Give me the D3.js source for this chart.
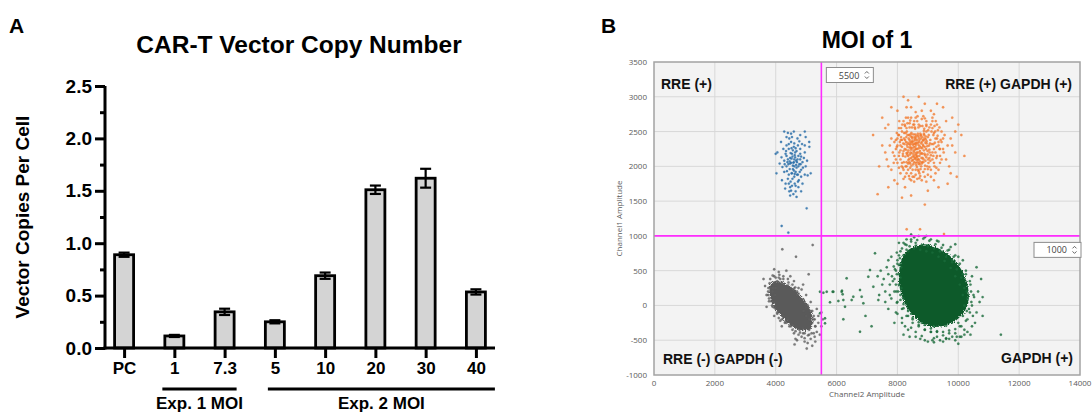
<!DOCTYPE html>
<html>
<head>
<meta charset="utf-8">
<script src="https://cdn.jsdelivr.net/npm/d3@7"></script>
<style>
  body { margin: 0; background: #fff; }
  svg { display: block; }
</style>
</head>
<body>
<svg id="fig" width="1092" height="414"></svg>
<script>
// ---------- Panel A data: vector copies per cell ----------
const barCategories = ["PC", "1", "7.3", "5", "10", "20", "30", "40"];
const barMeans  = [0.89, 0.115, 0.345, 0.25, 0.69, 1.51, 1.62, 0.535];
const barErrors = [0.02, 0.01, 0.03, 0.015, 0.03, 0.04, 0.09, 0.025];
const yTicksA = [0, 0.5, 1.0, 1.5, 2.0, 2.5];
const yMinorTicksA = [0.25, 0.75, 1.25, 1.75, 2.25];
const groupLabels = ["Exp. 1 MOI", "Exp. 2 MOI"];
const groupFirst  = ["1", "5"];
const groupLast   = ["7.3", "40"];

// ---------- Panel B data: droplet amplitudes (Channel2, Channel1) ----------
const xTicksB = [0, 2000, 4000, 6000, 8000, 10000, 12000, 14000];
const yTicksB = [-1000, -500, 0, 500, 1000, 1500, 2000, 2500, 3000, 3500];
const thresholdX = 5500;
const thresholdY = 1000;
const quadrantLabels = ["RRE (+)", "RRE (+) GAPDH (+)", "RRE (-) GAPDH (-)", "GAPDH (+)"];

// outline of the dense double-negative droplet cloud
const negativeCore = [[3870,330],[4300,320],[4850,120],[5200,-150],[5140,-340],[4700,-340],[4150,-140],[3810,130]];
// outline of the dense GAPDH-only droplet cloud
const gapdhCore = [[9800,-250],[9050,-300],[8350,-50],[8050,350],[8250,750],[8900,880],[9700,720],[10250,380],[10300,0]];

const negativeDroplets = [
  [3750,200],[3800,320],[3900,430],[4000,400],[4100,480],[4250,420],[4400,380],[4550,300],[4700,200],[4850,230],
  [4950,50],[5050,-20],[5150,-80],[5250,-200],[5300,-300],[5350,-380],[5280,-450],[5150,-480],[5050,-540],[4950,-470],
  [4850,-450],[4750,-420],[4600,-400],[4450,-300],[4300,-250],[4150,-220],[4050,-100],[3950,-30],[3850,60],[3780,100],
  [3700,150],[3650,280],[4000,250],[4150,380],[4500,250],[4800,100],[5000,-150],[5100,-350],[4900,-400],[4400,-200],
  [4000,-50],[3900,200],[4600,350],[4900,300],[5200,-250],[5400,-250],[5450,-420],[5300,-520],[4700,-500],[4200,-300],
  [5500,-100],[5350,-50],[3600,380],[3950,520],[4350,500],[5000,150],[5150,50],[4100,-180],[4650,-480],[5200,-580],
  [3820,260],[4050,350],[4200,330],[4750,250],[5100,-200],[5250,-150],[4950,-520],[4550,-350],[4250,-150],[3880,0],
  [4480,420],[4920,-80],[5060,-430],[3980,150],[4780,-350],[5400,-150],[4120,440],[4320,-230],[5180,-400],[4640,260],
  [4216,807],[4667,700],[5215,869],[5083,448],[3950,-150],[5500,-300],[5550,-200],[5020,-620],[4620,-560],[3700,-20],
  [3820,380],[3950,420],[4100,400],[4250,380],[4420,330],[4600,240],[4750,170],[4900,90],[5050,0],[5200,-80],
  [5280,-200],[5300,-300],[5250,-400],[5100,-420],[4950,-400],[4800,-390],[4650,-370],[4500,-300],[4350,-250],[4200,-200],
  [4050,-120],[3900,-20],[3780,60],[3750,150],[3760,250],[3900,250],[4100,330],[4400,280],[4700,150],[5000,-30],
  [5150,-250],[4900,-330],[4550,-280],[4250,-150],[3950,50]
];

const gapdhDroplets = [
  [7900,200],[7850,350],[7950,500],[8000,650],[8100,780],[8250,880],[8400,850],[8600,900],[8800,870],[9000,850],
  [9200,820],[9400,780],[9600,700],[9800,620],[9950,520],[10100,400],[10200,250],[10300,100],[10350,-50],[10300,-200],
  [10200,-350],[10050,-450],[9900,-500],[9700,-480],[9500,-520],[9300,-450],[9100,-380],[8900,-350],[8700,-300],[8500,-250],
  [8300,-150],[8150,-50],[8000,50],[7950,-100],[7800,100],[7750,300],[7700,450],[8050,900],[8450,950],[9100,950],
  [9700,800],[10400,300],[10500,150],[10600,-100],[10450,-300],[10200,-420],[9800,-450],[9400,-500],[8900,-500],[8600,-450],
  [8350,-350],[8150,-250],[7900,-250],[7600,200],[7550,380],[7650,550],[7800,700],[8700,1000],[9300,930],[10000,700],
  [10700,50],[10650,200],[10550,-250],[10100,-450],[9600,-480],[9150,-500],[8750,-480],[8400,-450],[8200,-420],[7700,-50],
  [8050,580],[8200,720],[8350,780],[8550,820],[8750,800],[8950,780],[9150,760],[9350,700],[9550,640],[9750,540],
  [9900,420],[10050,300],[10150,150],[10200,0],[10150,-150],[10050,-300],[9900,-400],[9700,-400],[9500,-430],[9300,-380],
  [9100,-330],[8900,-280],[8700,-240],[8500,-180],[8350,-80],[8200,20],[8100,150],[8050,300],[8050,450],[8100,600],
  [7820,420],[7880,560],[7980,760],[8300,950],[8900,980],[9500,870],[9900,720],[10250,450],[10450,0],[10400,-420],
  [10000,-550],[9200,-530],[8600,-380],[8250,-300],[8000,-120],[7750,150],[7600,50],[7500,300],[7450,500],[7700,650],
  [11400,-420],[10800,-150],[10800,120],[10750,380],[8450,1020],[9900,880],[7350,420],[7400,150],[10600,550],[9000,-520],
  [7950,300],[7980,450],[7960,200],[8000,600],[8080,680],[8150,820],[8300,870],[8450,920],[8650,940],[8850,960],
  [9050,930],[9250,880],[9450,830],[9650,790],[9850,700],[10050,600],[10250,500],[10380,350],[10420,200],[10430,50],
  [10380,-100],[10250,-220],[10100,-300],[9900,-340],[9700,-360],[9500,-380],[9300,-370],[9100,-380],[8900,-350],[8700,-280],
  [8500,-200],[8350,-150],[8200,-40],[8100,80],[8020,200],[7900,380],[7920,520],[8050,720],[8200,900],[8550,980],
  [8950,1000],[9350,920],[9750,840],[10150,650],[10450,420],[10520,120],[10480,-150],[10300,-380],[9950,-450],[9600,-470],
  [9200,-470],[8800,-440],[8450,-320],[8150,-180],[7980,40],[8100,400],[8120,550],[8300,800],[8600,860],[9000,860],
  [9400,780],[9800,650],[10150,450],[10280,200],[10280,-80],[10000,-250],[9600,-290],[9200,-300],[8800,-250],[8450,-120],
  [8200,100],[8130,250],
  // droplets trailing toward the negative cloud
  [5455,197],[5565,183],[5784,45],[5872,197],[6058,64],[6178,212],[6200,160],[6277,-18],[6331,390],[6222,-199],
  [5620,-185],[5620,-257],[5455,-113],[5676,197],[5894,197],[6167,197],[6222,78],[6550,126],[6770,222],[6825,126],
  [6770,-378],[7263,750],[7098,509],[6497,78],[6880,31],[7372,78],[7208,269],[7043,413],[6950,-150],[7150,-300]
];

const rreDroplets = [
  [4580,2050],[4475,2120],[4685,1980],[4355,2000],[4805,2100],[4520,1900],[4640,2200],[4430,2250],[4730,2300],[4280,2080],
  [4610,1850],[4835,1950],[4400,1820],[4505,2350],[4955,2200],[4325,2180],[4670,2080],[4565,2010],[4745,2150],[4460,1960],
  [4550,2140],[4655,1920],[4385,2060],[4775,2030],[4595,2280],[4490,1780],[4880,2060],[4220,1990],[4715,2400],[4625,1750],
  [4445,2400],[4805,2250],[4535,2180],[4355,2150],[4700,1880],[4925,2120],[4280,1920],[4610,2330],[4430,1880],[4835,1850],
  [4505,2050],[4745,2000],[4400,2100],[4640,2130],[4565,1960],[4475,2040],[4670,2020],[4535,1900],[4610,2100],[4805,2180],
  [4130,2040],[4985,2000],[4325,1750],[4745,1700],[4505,1650],[4580,1600],[4685,1560],[4475,1700],[4400,2480],[4595,2500],
  [4280,2500],[4805,2450],[4985,2420],[5105,2280],[5030,2080],[5150,1900],[4880,1750],[4055,2200],[4175,2350],[4025,1900],
  [4205,1800],[4685,2220],[4520,2260],[4430,2320],[4340,2220],[4865,2320],[4760,1800],[4655,1720],[4550,1820],[4445,1640],
  [4625,2160],[4490,2190],[4715,2100],[4595,1940],[4370,1930],[4790,1920],[4520,2110],[4460,2070],[4700,2060],[4610,2000],
  [4565,2230],[4415,2030],[4820,2030],[4655,2260],[4295,2030],[4535,1720],[4730,1780],[4895,1980],[4355,2300],[4775,2360],
  [4535,2420],[4955,2300],[4250,2250],[4190,2130],[4625,1890],[4430,1750],[4835,2140],[4955,1880],[4475,1580],[4655,1640],
  [5100,2350],[5050,1870],[4000,2180],[4310,1680],[4835,1640],[4955,2500],[4355,2420],[4505,2470],[4730,1880],[4595,2060],
  [4196,1142],[4415,1046],[5017,1396]
];

const doublePositiveDroplets = [
  [8650,2250],[8420,2310],[8890,2180],[8510,2090],[8770,2400],[8340,2200],[8960,2330],[8600,2050],[8720,2150],[8480,2420],
  [8810,2060],[8280,2350],[9050,2240],[8560,2370],[8690,2310],[8390,2110],[8930,2430],[8620,2180],[8750,2470],[8450,2240],
  [8850,2290],[8300,2060],[9010,2100],[8580,2460],[8700,2040],[8370,2400],[8910,2010],[8530,2170],[8800,2350],[8640,2380],
  [8240,2250],[9080,2380],[8460,2330],[8740,2220],[8590,2120],[8880,2450],[8330,2280],[8990,2170],[8520,2030],[8680,2440],
  [8410,2170],[8830,2120],[8610,2310],[8260,2140],[9040,2300],[8490,2400],[8770,2270],[8350,2040],[8940,2250],[8560,2200],
  [8700,2100],[8430,2460],[8860,2370],[8620,2020],[8290,2420],[9100,2160],[8540,2280],[8790,2190],[8380,2320],[8920,2080],
  [8660,2340],[8470,2080],[8820,2420],[8570,2240],[8720,2380],[8320,2170],[9000,2420],[8500,2350],[8740,2070],[8440,2270],
  [8870,2230],[8600,2410],[8360,2090],[8960,2360],[8650,2150],[8520,2460],[8800,2040],[8280,2240],[9060,2200],[8580,2330],
  [8700,2260],[8400,2380],[8840,2310],[8630,2090],[8470,2190],[8910,2160],[8550,2060],[8760,2440],[8340,2340],[8980,2290],
  [8690,2200],[8450,2120],[8860,2100],[8610,2250],[8380,2450],[9020,2050],[8540,2140],[8780,2330],[8420,2040],[8930,2390],
  [8670,2470],[8310,2310],[8820,2180],[8580,2390],[8730,2030],[8490,2260],[8890,2400],[8640,2130],[8360,2230],[9070,2330],
  [8510,2310],[8710,2350],[8430,2200],[8850,2060],[8590,2280],[8250,2380],[8950,2130],[8560,2420],[8790,2120],[8400,2270],
  [8660,2060],[8480,2360],[8900,2280],[8620,2340],[8350,2150],[9030,2450],[8530,2220],[8760,2180],[8440,2430],[8870,2470],
  [8700,2410],[8300,2190],[8810,2260],[8570,2110],[8460,2480],[8990,2220],[8640,2200],[8390,2060],[8840,2380],[8600,2160],
  [8730,2290],[8500,2140],[8920,2340],[8680,2100],[8420,2350],[8780,2450],[8550,2320],[8330,2450],[9050,2120],[8620,2440],
  [8100,2300],[9250,2200],[8050,2150],[9300,2400],[8150,2500],[9200,2050],[8000,2400],[9350,2300],[8200,1950],[9150,2550],
  [8450,1900],[8850,1920],[8700,2600],[8400,2620],[8950,2580],[8600,1880],[8250,2580],[9100,1950],[8150,2050],[9400,2150],
  [7950,2250],[9450,2350],[8050,2550],[9300,2600],[8300,1900],[9000,1880],[8550,2650],[8800,2680],[8350,2700],[8900,1850],
  [7900,2350],[9500,2250],[8100,1900],[9250,1900],[8650,1820],[8500,1850],[8750,1860],[8200,2650],[9150,2650],[8450,2700],
  [7850,2200],[9550,2450],[8000,2050],[9400,2050],[8300,2550],[8950,2650],[8600,2700],[9200,2480],[8120,2420],[9050,2560],
  [7800,2400],[9600,2100],[8250,1850],[9100,1850],[8850,2720],[8400,1820],[7950,2100],[9450,2500],[8650,2650],[8180,2180],
  [9180,2320],[8080,2350],[9280,2120],[8220,2480],[9120,2500],[7980,2280],[9380,2250],[8140,2000],[9220,2000],[8550,1780],
  [8800,1800],[8950,2500],[8270,2000],[9080,2080],[8160,2600],[9330,2520],[8030,2450],[9420,2380],[8380,1860],[8720,1900],
  [7880,2050],[9520,2200],[8060,2650],[9260,2650],[8480,2560],[8820,2580],[8190,2330],[9150,2200],[8570,2560],[8680,1950],
  [7750,2300],[9650,2300],[8330,2620],[8980,2000],[8100,2230],[9230,2340],[8420,1980],[8880,2540],[8520,2600],[8760,1960],
  [8000,2300],[8050,2450],[8100,2100],[8150,2380],[8200,2220],[8120,2550],[8180,1980],[8230,2320],[8270,2480],[8210,2060],
  [9200,2250],[9250,2400],[9150,2100],[9300,2150],[9180,2450],[9350,2350],[9220,2580],[9280,1980],[9130,2320],[9400,2250],
  [8500,1950],[8700,1930],[8900,1960],[8350,1950],[9050,1990],[8550,2600],[8750,2580],[8950,2600],[8400,2560],[9100,2600],
  [8060,2200],[8240,2600],[8310,2500],[8580,2540],[8690,2560],[8870,2510],[9010,2520],[9240,2500],[8110,2380],[9320,2440],
  [8180,2150],[9180,2150],[8300,2000],[8460,2010],[8780,2000],[9000,1960],[8640,1990],[8220,2400],[9280,2280],[8150,2280],
  [7950,2380],[7900,2150],[9450,2100],[9500,2400],[8420,2660],[8660,2720],[8900,2690],[8280,2700],[9150,2700],[8550,1850],
  [7980,2480],[9380,2560],[8050,1980],[9350,1950],[8720,1830],[8450,1800],[8950,1780],[8200,1820],[9200,1800],[8600,2780],
  [7500,2300],[7650,2100],[7700,2600],[9800,2300],[9900,2500],[9750,1900],[8300,2850],[8900,2900],[9200,2750],[7800,1950],
  [7200,2450],[7500,2700],[7400,2000],[7600,2550],[10100,2450],[9900,2200],[9800,2700],[9700,2000],[8200,3000],[8350,2950],
  [8700,3000],[9300,2900],[9500,2850],[7700,1700],[8000,1750],[8150,1550],[9000,1650],[9350,1700],[9650,1750],[8900,1450],
  [7350,1600],[7800,2850],[7600,2200],[10200,2150],[9950,1850],[8450,2850],[9100,2800],[7700,2000],[10000,2600],[8450,1580],
  [8305,1095],[8743,1095],[9530,1027],[8600,1950],[8800,2800],[8000,2800],[9600,2650],[7900,1800],[9750,2400],[8250,1700]
];

// ---------- drawing ----------
const svg = d3.select("#fig");
const boldFont = "'Liberation Sans', Arial, Helvetica, sans-serif";
const uiFont = "'Open Sans', 'Noto Sans', sans-serif";

// ===== Panel A =====
const gA = svg.append("g");
const xA = d3.scalePoint().domain(barCategories).range([105, 495]).padding(0.38);
const yA = d3.scaleLinear().domain([0, 2.5]).range([348, 86]);
const barW = 19;
const capW = 11;

gA.append("text").attr("x", 9).attr("y", 33)
  .attr("font-family", boldFont).attr("font-weight", "bold").attr("font-size", 21)
  .text("A");

gA.append("text").attr("x", 299).attr("y", 53).attr("text-anchor", "middle")
  .attr("font-family", boldFont).attr("font-weight", "bold").attr("font-size", 24.5)
  .text("CAR-T Vector Copy Number");

gA.append("text")
  .attr("transform", `translate(29,${(yA(0) + yA(2.5)) / 2}) rotate(-90)`)
  .attr("text-anchor", "middle")
  .attr("font-family", boldFont).attr("font-weight", "bold").attr("font-size", 19)
  .text("Vector Copies Per Cell");

// bars
gA.selectAll("rect.bar").data(barCategories).join("rect")
  .attr("class", "bar")
  .attr("x", d => xA(d) - barW / 2)
  .attr("y", (d, i) => yA(barMeans[i]))
  .attr("width", barW)
  .attr("height", (d, i) => yA(0) - yA(barMeans[i]))
  .attr("fill", "#d4d4d4")
  .attr("stroke", "#000")
  .attr("stroke-width", 2.8);

// error bars
const eb = gA.selectAll("g.err").data(barCategories).join("g").attr("class", "err")
  .attr("stroke", "#000").attr("stroke-width", 2.2);
eb.append("line")
  .attr("x1", d => xA(d)).attr("x2", d => xA(d))
  .attr("y1", (d, i) => yA(barMeans[i] - barErrors[i]))
  .attr("y2", (d, i) => yA(barMeans[i] + barErrors[i]));
eb.append("line")
  .attr("x1", d => xA(d) - capW / 2).attr("x2", d => xA(d) + capW / 2)
  .attr("y1", (d, i) => yA(barMeans[i] + barErrors[i]))
  .attr("y2", (d, i) => yA(barMeans[i] + barErrors[i]));
eb.append("line")
  .attr("x1", d => xA(d) - capW / 2).attr("x2", d => xA(d) + capW / 2)
  .attr("y1", (d, i) => yA(barMeans[i] - barErrors[i]))
  .attr("y2", (d, i) => yA(barMeans[i] - barErrors[i]));

// y axis with minor ticks
const yAxisA = gA.append("g").attr("transform", "translate(105,0)")
  .call(d3.axisLeft(yA).tickValues(yTicksA).tickSize(10).tickSizeOuter(0).tickPadding(3)
    .tickFormat(d3.format(".1f")));
yAxisA.select(".domain").attr("stroke-width", 3).attr("d", `M0,${yA(0) + 1.5}V${yA(2.5)}`);
yAxisA.selectAll(".tick line").attr("stroke-width", 3);
yAxisA.selectAll(".tick text")
  .attr("font-family", boldFont).attr("font-weight", "bold").attr("font-size", 19).attr("fill", "#000");
gA.append("g").attr("transform", "translate(105,0)")
  .call(d3.axisLeft(yA).tickValues(yMinorTicksA).tickSize(5).tickFormat(""))
  .call(g => g.select(".domain").remove())
  .selectAll(".tick line").attr("stroke-width", 3);

// x axis
const xAxisA = gA.append("g").attr("transform", `translate(0,${yA(0)})`)
  .call(d3.axisBottom(xA).tickSize(10).tickSizeOuter(0).tickPadding(4));
xAxisA.select(".domain").attr("stroke-width", 3).attr("d", "M103.5,0H495");
xAxisA.selectAll(".tick line").attr("stroke-width", 3);
xAxisA.selectAll(".tick text")
  .attr("font-family", boldFont).attr("font-weight", "bold").attr("font-size", 17).attr("fill", "#000");

// experiment group brackets
const groupPad = [[12, 12], [7, 19]];
groupLabels.forEach((lab, i) => {
  const x0 = xA(groupFirst[i]) - groupPad[i][0];
  const x1 = xA(groupLast[i]) + groupPad[i][1];
  gA.append("line").attr("x1", x0).attr("x2", x1).attr("y1", 389).attr("y2", 389)
    .attr("stroke", "#000").attr("stroke-width", 3);
  gA.append("text").attr("x", (x0 + x1) / 2).attr("y", 409).attr("text-anchor", "middle")
    .attr("font-family", boldFont).attr("font-weight", "bold").attr("font-size", 17)
    .text(lab);
});

// ===== Panel B =====
const gB = svg.append("g");
const xB = d3.scaleLinear().domain([0, 14000]).range([654, 1080]);
const yB = d3.scaleLinear().domain([-1000, 3500]).range([375, 62]);
const [L, R] = xB.range();
const [B, T] = yB.range();

gB.append("text").attr("x", 601).attr("y", 33)
  .attr("font-family", boldFont).attr("font-weight", "bold").attr("font-size", 21)
  .text("B");
gB.append("text").attr("x", (L + R) / 2).attr("y", 48).attr("text-anchor", "middle")
  .attr("font-family", boldFont).attr("font-weight", "bold").attr("font-size", 23)
  .text("MOI of 1");

gB.append("rect").attr("x", L).attr("y", T).attr("width", R - L).attr("height", B - T)
  .attr("fill", "#f3f3f3");

const defs = svg.append("defs");
defs.append("clipPath").attr("id", "plotB").append("rect")
  .attr("x", L).attr("y", T).attr("width", R - L).attr("height", B - T);
// ragged edge for the dense droplet clouds
const grain = defs.append("filter").attr("id", "grain")
  .attr("x", "-20%").attr("y", "-20%").attr("width", "140%").attr("height", "140%");
grain.append("feTurbulence").attr("type", "fractalNoise").attr("baseFrequency", 0.9)
  .attr("numOctaves", 1).attr("seed", 4).attr("result", "noise");
grain.append("feDisplacementMap").attr("in", "SourceGraphic").attr("in2", "noise")
  .attr("scale", 6).attr("xChannelSelector", "R").attr("yChannelSelector", "G");

// grid
gB.append("g").selectAll("line").data(xTicksB.slice(1, -1)).join("line")
  .attr("x1", d => xB(d)).attr("x2", d => xB(d)).attr("y1", T).attr("y2", B)
  .attr("stroke", "#d8d8d8").attr("stroke-width", 1);
gB.append("g").selectAll("line").data(yTicksB.slice(1, -1)).join("line")
  .attr("y1", d => yB(d)).attr("y2", d => yB(d)).attr("x1", L).attr("x2", R)
  .attr("stroke", "#d8d8d8").attr("stroke-width", 1);

const plot = gB.append("g").attr("clip-path", "url(#plotB)");
const outline = d3.line().x(d => xB(d[0])).y(d => yB(d[1])).curve(d3.curveCatmullRomClosed.alpha(0.5));

function droplets(data, color, r, op) {
  plot.append("g").selectAll("circle").data(data).join("circle")
    .attr("cx", d => xB(d[0])).attr("cy", d => yB(d[1])).attr("r", r)
    .attr("fill", color).attr("fill-opacity", op)
    .attr("stroke", color).attr("stroke-opacity", op * 0.6).attr("stroke-width", 0.4);
}

plot.append("path").attr("d", outline(negativeCore)).attr("fill", "#5a5a5a").attr("filter", "url(#grain)");
droplets(negativeDroplets, "#5e5e5e", 1.2, 0.8);
plot.append("path").attr("d", outline(gapdhCore)).attr("fill", "#0b5a2c").attr("filter", "url(#grain)");
droplets(gapdhDroplets, "#1a6b3b", 1.2, 0.8);
droplets(rreDroplets, "#2a6fa8", 1.15, 0.85);
droplets(doublePositiveDroplets, "#f2772a", 1.2, 0.75);

// threshold lines
gB.append("line").attr("x1", xB(thresholdX)).attr("x2", xB(thresholdX)).attr("y1", T).attr("y2", B)
  .attr("stroke", "#ff2cff").attr("stroke-width", 1.6);
gB.append("line").attr("x1", L).attr("x2", R).attr("y1", yB(thresholdY)).attr("y2", yB(thresholdY))
  .attr("stroke", "#ff2cff").attr("stroke-width", 1.6);

// frame
gB.append("rect").attr("x", L).attr("y", T).attr("width", R - L).attr("height", B - T)
  .attr("fill", "none").attr("stroke", "#a3a3a3").attr("stroke-width", 1.5);

// threshold spin boxes
function spinBox(x, y, value) {
  const g = gB.append("g").attr("transform", `translate(${x},${y})`);
  g.append("rect").attr("width", 47).attr("height", 15).attr("fill", "#fff")
    .attr("stroke", "#8c8c8c").attr("stroke-width", 1);
  g.append("text").attr("x", 33).attr("y", 11).attr("text-anchor", "end")
    .attr("font-family", uiFont).attr("font-size", 9).attr("fill", "#444").text(value);
  g.append("path").attr("d", "M38.5,6L40.5,4L42.5,6M38.5,9L40.5,11L42.5,9")
    .attr("fill", "none").attr("stroke", "#555").attr("stroke-width", 0.9);
}
spinBox(xB(thresholdX) + 5, T + 5.5, String(thresholdX));
spinBox(R - 46, yB(thresholdY) + 6.5, String(thresholdY));

// quadrant labels
const qFont = { "font-family": boldFont, "font-weight": "bold", "font-size": 14, "fill": "#111" };
const qPos = [[L + 7, 89, "start"], [R - 8, 89, "end"], [L + 9, 364, "start"], [R - 7, 363, "end"]];
quadrantLabels.forEach((t, i) => {
  const tx = gB.append("text").attr("x", qPos[i][0]).attr("y", qPos[i][1]).attr("text-anchor", qPos[i][2]).text(t);
  Object.entries(qFont).forEach(([k, v]) => tx.attr(k, v));
});

// axes tick labels
gB.append("g").selectAll("text").data(yTicksB).join("text")
  .attr("x", L - 7).attr("y", d => yB(d) + 3).attr("text-anchor", "end")
  .attr("font-family", uiFont).attr("font-size", 8).attr("fill", "#5a5a5a")
  .text(d => d);
gB.append("g").selectAll("text").data(xTicksB).join("text")
  .attr("x", d => xB(d)).attr("y", B + 11).attr("text-anchor", "middle")
  .attr("font-family", uiFont).attr("font-size", 8).attr("fill", "#5a5a5a")
  .text(d => d);
gB.append("text").attr("x", (L + R) / 2).attr("y", B + 22).attr("text-anchor", "middle")
  .attr("font-family", uiFont).attr("font-size", 8).attr("fill", "#5a5a5a")
  .text("Channel2 Amplitude");
gB.append("text")
  .attr("transform", `translate(${L - 32},${(T + B) / 2}) rotate(-90)`)
  .attr("text-anchor", "middle")
  .attr("font-family", uiFont).attr("font-size", 8).attr("fill", "#5a5a5a")
  .text("Channel1 Amplitude");
</script>
</body>
</html>
